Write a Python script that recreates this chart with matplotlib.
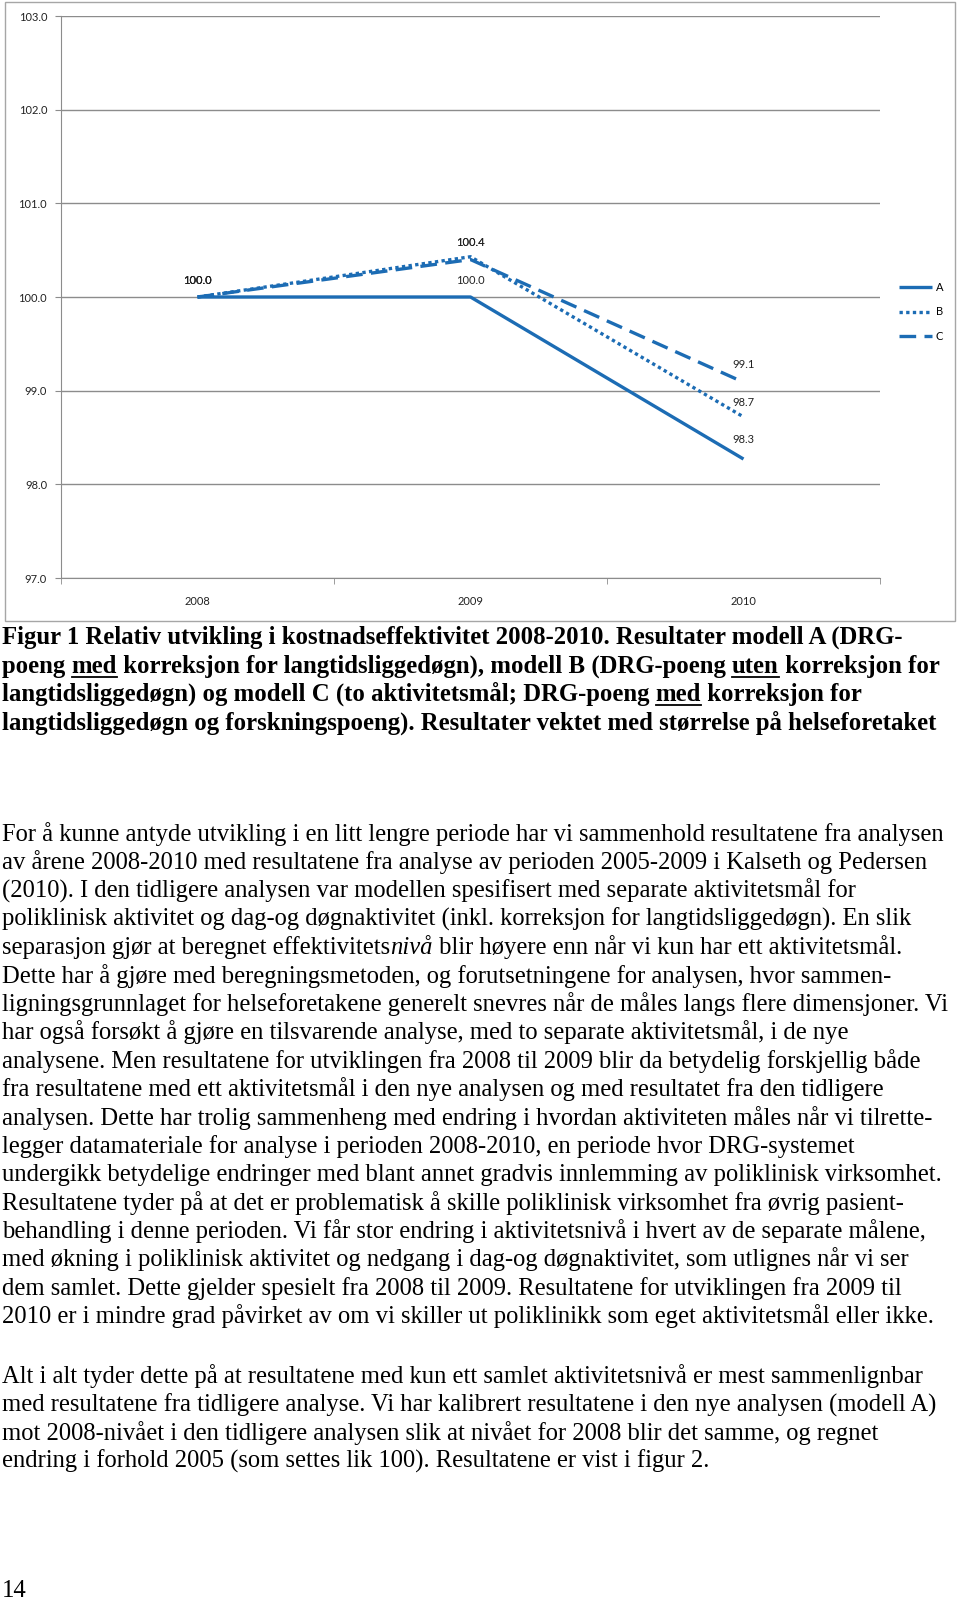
import numpy as np
import matplotlib.pyplot as plt
from matplotlib.lines import Line2D
from matplotlib.patches import Rectangle
from matplotlib.ticker import FormatStrFormatter

# chart data
years = ['2008', '2009', '2010']
model_a = [100.0, 100.0, 98.27]
model_b = [100.0, 100.43, 98.72]
model_c = [100.0, 100.40, 99.09]
series_names = ['A', 'B', 'C']

caption_lines = [
    [("Figur 1 Relativ utvikling i kostnadseffektivitet 2008-2010. Resultater modell A (DRG-", "")],
    [("poeng ", ""), ("med", "u"), (" korreksjon for langtidsliggedøgn), modell B (DRG-poeng ", ""),
     ("uten", "u"), (" korreksjon for", "")],
    [("langtidsliggedøgn) og modell C (to aktivitetsmål; DRG-poeng ", ""), ("med", "u"),
     (" korreksjon for", "")],
    [("langtidsliggedøgn og forskningspoeng). Resultater vektet med størrelse på helseforetaket", "")],
]

para1 = [
    [("For å kunne antyde utvikling i en litt lengre periode har vi sammenhold resultatene fra analysen", "")],
    [("av årene 2008-2010 med resultatene fra analyse av perioden 2005-2009 i Kalseth og Pedersen", "")],
    [("(2010). I den tidligere analysen var modellen spesifisert med separate aktivitetsmål for", "")],
    [("poliklinisk aktivitet og dag-og døgnaktivitet (inkl. korreksjon for langtidsliggedøgn). En slik", "")],
    [("separasjon gjør at beregnet effektivitets", ""), ("nivå", "i"),
     (" blir høyere enn når vi kun har ett aktivitetsmål.", "")],
    [("Dette har å gjøre med beregningsmetoden, og forutsetningene for analysen, hvor sammen-", "")],
    [("ligningsgrunnlaget for helseforetakene generelt snevres når de måles langs flere dimensjoner. Vi", "")],
    [("har også forsøkt å gjøre en tilsvarende analyse, med to separate aktivitetsmål, i de nye", "")],
    [("analysene. Men resultatene for utviklingen fra 2008 til 2009 blir da betydelig forskjellig både", "")],
    [("fra resultatene med ett aktivitetsmål i den nye analysen og med resultatet fra den tidligere", "")],
    [("analysen. Dette har trolig sammenheng med endring i hvordan aktiviteten måles når vi tilrette-", "")],
    [("legger datamateriale for analyse i perioden 2008-2010, en periode hvor DRG-systemet", "")],
    [("undergikk betydelige endringer med blant annet gradvis innlemming av poliklinisk virksomhet.", "")],
    [("Resultatene tyder på at det er problematisk å skille poliklinisk virksomhet fra øvrig pasient-", "")],
    [("behandling i denne perioden. Vi får stor endring i aktivitetsnivå i hvert av de separate målene,", "")],
    [("med økning i poliklinisk aktivitet og nedgang i dag-og døgnaktivitet, som utlignes når vi ser", "")],
    [("dem samlet. Dette gjelder spesielt fra 2008 til 2009. Resultatene for utviklingen fra 2009 til", "")],
    [("2010 er i mindre grad påvirket av om vi skiller ut poliklinikk som eget aktivitetsmål eller ikke.", "")],
]

para2 = [
    [("Alt i alt tyder dette på at resultatene med kun ett samlet aktivitetsnivå er mest sammenlignbar", "")],
    [("med resultatene fra tidligere analyse. Vi har kalibrert resultatene i den nye analysen (modell A)", "")],
    [("mot 2008-nivået i den tidligere analysen slik at nivået for 2008 blir det samme, og regnet", "")],
    [("endring i forhold 2005 (som settes lik 100). Resultatene er vist i figur 2.", "")],
]

page_number = "14"

W, H = 960, 1601
blue = '#1c6cb4'
grey = '#8c8c8c'
chart_font = ['Lato', 'DejaVu Sans']
serif = ['Liberation Serif', 'DejaVu Serif']
fs_chart = 8

fig = plt.figure(figsize=(9.6, 16.01), dpi=100)

# outer chart frame
fig.add_artist(Rectangle((5 / W, 1 - 621 / H), 950 / W, 619 / H, transform=fig.transFigure,
                         fill=False, ec='#a6a6a6', lw=1))

ax = fig.add_axes([61 / W, 1 - 578 / H, (880 - 61) / W, (578 - 16) / H])
x = np.arange(len(years))
ax.plot(x, model_a, color=blue, lw=2.4, solid_capstyle='butt', label=series_names[0])
ax.plot(x, model_b, color=blue, lw=2.4, linestyle=(0, (1, 1)), label=series_names[1])
ax.plot(x, model_c, color=blue, lw=2.4, linestyle=(0, (5, 2.5)), label=series_names[2])

# data labels (placed at the rounded value, as the labels show)
for vals in (model_a, model_b, model_c):
    for i, v in enumerate(vals):
        ax.annotate(f'{v:.1f}', (x[i], round(v, 1)), xytext=(0, 12), textcoords='offset points',
                    ha='center', va='center', fontsize=fs_chart, family=chart_font, color='#222222')

ax.set_xlim(-0.5, len(years) - 0.5)
ax.set_ylim(97, 103)
ax.set_yticks(np.arange(97, 103.5, 1))
ax.yaxis.set_major_formatter(FormatStrFormatter('%.1f'))
ax.set_xticks(x)
ax.set_xticklabels(years)
ax.set_xticks(np.arange(len(years) + 1) - 0.5, minor=True)
ax.yaxis.grid(True, color=grey, lw=1)
ax.set_axisbelow(True)
for s in ('top', 'right'):
    ax.spines[s].set_visible(False)
for s in ('left', 'bottom'):
    ax.spines[s].set_color(grey)
ax.tick_params(axis='x', which='major', length=0, pad=13)
ax.tick_params(axis='x', which='minor', length=4, color=grey)
ax.tick_params(axis='y', length=4, color=grey, pad=6)
for lab in ax.get_xticklabels() + ax.get_yticklabels():
    lab.set_fontsize(fs_chart)
    lab.set_family(chart_font)
    lab.set_color('#222222')

leg = ax.legend(loc='center left', bbox_to_anchor=(899 / W, 1 - 312 / H), bbox_transform=fig.transFigure,
                frameon=False, handlelength=3, handletextpad=0.3, labelspacing=1.2,
                borderpad=0, borderaxespad=0, prop={'family': chart_font, 'size': fs_chart})

# text below the chart
renderer = fig.canvas.get_renderer()


def text_width(s, **kw):
    a = fig.text(0, 0, '|' + s + '|', **kw)
    b = fig.text(0, 0, '||', **kw)
    w = a.get_window_extent(renderer).width - b.get_window_extent(renderer).width
    a.remove()
    b.remove()
    return w


def draw_line(y, runs, size, bold=False):
    xpos = 2
    for s, style in runs:
        kw = dict(fontsize=size, family=serif, fontweight='bold' if bold else 'normal',
                  fontstyle='italic' if style == 'i' else 'normal', color='black')
        fig.text(xpos / W, 1 - y / H, s, va='baseline', ha='left', **kw)
        w = text_width(s, **kw)
        if style == 'u':
            fig.add_artist(Line2D([xpos / W, (xpos + w) / W], [1 - (y + 4.5) / H] * 2,
                                  transform=fig.transFigure, color='black', lw=1.3))
        xpos += w


for i, runs in enumerate(caption_lines):
    draw_line(644 + 28.5 * i, runs, 17.8, bold=True)
for i, runs in enumerate(para1):
    draw_line(841 + 28.35 * i, runs, 17.7)
for i, runs in enumerate(para2):
    draw_line(1383 + 28.35 * i, runs, 17.7)
draw_line(1597, [(page_number, "")], 17.7)

fig.savefig('out.png', dpi=100)
